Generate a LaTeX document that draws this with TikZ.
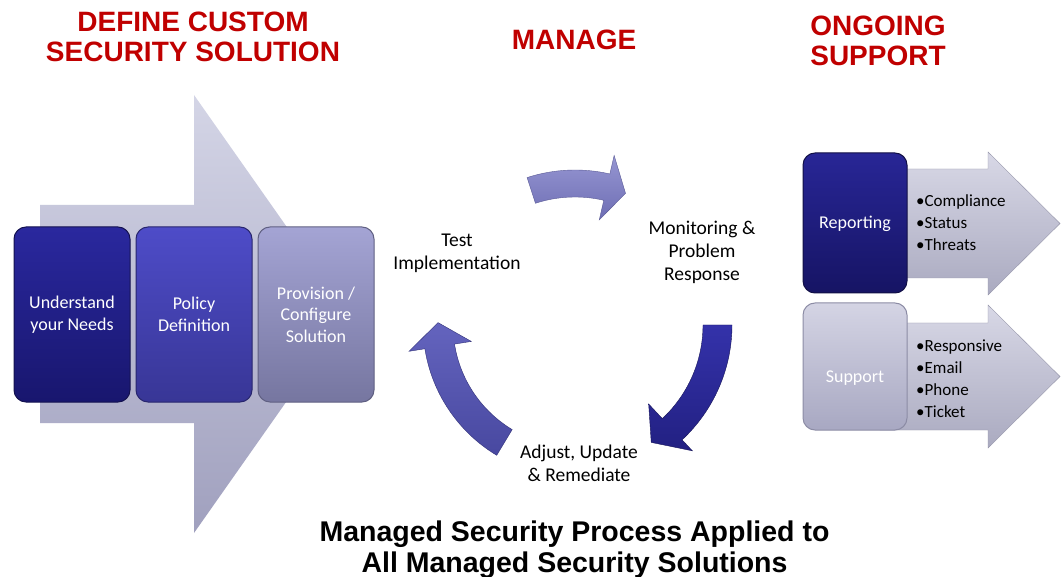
\documentclass[tikz,border=0pt]{standalone}
\usepackage{fontspec}
\setmainfont{Carlito}
\newfontfamily\titlefont{Liberation Sans}
\usetikzlibrary{calc}
\definecolor{titlered}{HTML}{C00000}
\tikzset{
  stagebox/.style={rounded corners=12pt, minimum width=116pt, minimum height=175pt,
    text=white, align=center, font=\fontsize{18}{21.5}\selectfont, line width=1pt},
  sidebox/.style={rounded corners=12pt, minimum width=104pt,
    text=white, align=center, font=\fontsize{18}{21.5}\selectfont, line width=1pt},
  cyclelabel/.style={align=center, font=\fontsize{19.5}{23}\selectfont, text=black},
  bullets/.style={align=left, anchor=west, font=\fontsize{17}{22}\selectfont, text=black, inner sep=0pt},
  heading/.style={align=center, anchor=base, text=titlered, font=\titlefont\bfseries\fontsize{28}{30}\selectfont},
  footing/.style={align=center, anchor=base, text=black, font=\titlefont\bfseries\fontsize{28.5}{31}\selectfont},
}
\begin{document}
\begin{tikzpicture}[x=1pt,y=-1pt]
\useasboundingbox[fill=white] (0,0) rectangle (1063,577);

% big background arrow
\path[top color={rgb,255:red,212;green,213;blue,230}, bottom color={rgb,255:red,160;green,160;blue,190}]
  (40,205) -- (194,205) -- (194,95) -- (348,314) -- (194,533) -- (194,423) -- (40,423) -- cycle;

% stage boxes
\node[stagebox, top color={rgb,255:red,42;green,40;blue,158}, bottom color={rgb,255:red,24;green,22;blue,110}, draw={rgb,255:red,20;green,18;blue,80}]
  (understand) at (72,314.5) {Understand\\your Needs};
\node[stagebox, top color={rgb,255:red,78;green,76;blue,200}, bottom color={rgb,255:red,56;green,54;blue,150}, draw={rgb,255:red,40;green,38;blue,110}]
  (policy) at (194,314.5) {Policy\\Definition};
\node[stagebox, top color={rgb,255:red,164;green,164;blue,212}, bottom color={rgb,255:red,118;green,118;blue,160}, draw={rgb,255:red,96;green,96;blue,130}]
  (provision) at (316,314.5) {Provision /\\Configure\\Solution};

% cycle arrows
\begin{scope}[shift={(575,325)}]
\path[top color={rgb,255:red,150;green,150;blue,210}, bottom color={rgb,255:red,110;green,110;blue,180}, draw={rgb,255:red,90;green,90;blue,150}]
  (-108:155) arc[start angle=-108, end angle=-77, radius=155] -- (-77:174) -- (-69:141)
  -- (-77:108) -- (-77:128) arc[start angle=-77, end angle=-108, radius=128] -- cycle;
\path[top color={rgb,255:red,52;green,50;blue,170}, bottom color={rgb,255:red,34;green,32;blue,130}, draw={rgb,255:red,24;green,22;blue,90}]
  (0:157) arc[start angle=0, end angle=47, radius=157] -- (47:172) -- (57:140)
  -- (47:108) -- (47:128) arc[start angle=47, end angle=0, radius=128] -- cycle;
\path[top color={rgb,255:red,100;green,100;blue,190}, bottom color={rgb,255:red,72;green,72;blue,160}, draw={rgb,255:red,50;green,50;blue,120}]
  (121:152) arc[start angle=121, end angle=171, radius=152] -- (171:168) -- (181:137)
  -- (171:105) -- (171:122) arc[start angle=171, end angle=121, radius=122] -- cycle;
\end{scope}

\node[cyclelabel] (test) at (457,253) {Test\\Implementation};
\node[cyclelabel] (monitor) at (702,252) {Monitoring \&\\Problem\\Response};
\node[cyclelabel] (adjust) at (579,463) {Adjust, Update\\\& Remediate};

% ongoing support arrows
\path[top color={rgb,255:red,216;green,216;blue,230}, bottom color={rgb,255:red,170;green,170;blue,192}, draw={rgb,255:red,150;green,150;blue,170}]
  (880,169) -- (988,169) -- (988,152) -- (1060,223.5) -- (988,295) -- (988,278) -- (880,278) -- cycle;
\path[top color={rgb,255:red,216;green,216;blue,230}, bottom color={rgb,255:red,170;green,170;blue,192}, draw={rgb,255:red,150;green,150;blue,170}]
  (880,323) -- (988,323) -- (988,305) -- (1060,376.5) -- (988,448) -- (988,430) -- (880,430) -- cycle;

\node[sidebox, minimum height=140pt, top color={rgb,255:red,40;green,38;blue,150}, bottom color={rgb,255:red,22;green,20;blue,100}, draw={rgb,255:red,18;green,16;blue,70}]
  (reporting) at (855,223) {\raisebox{-6pt}[0pt][0pt]{Reporting}};
\node[sidebox, minimum height=127pt, top color={rgb,255:red,212;green,212;blue,228}, bottom color={rgb,255:red,168;green,168;blue,194}, draw={rgb,255:red,140;green,140;blue,165}]
  (support) at (855,366.5) {\raisebox{-16.5pt}[0pt][0pt]{Support}};

\node[bullets] (replist) at (916,223) {•Compliance\\•Status\\•Threats};
\node[bullets] (suplist) at (916,378.5) {•Responsive\\•Email\\•Phone\\•Ticket};

% headings
\node[heading] (define) at (193,62) {DEFINE CUSTOM\\SECURITY SOLUTION};
\node[heading] (manage) at (574,50) {MANAGE};
\node[heading] (ongoing) at (878,66) {ONGOING\\SUPPORT};
\node[footing] (footer) at (574.5,572) {Managed Security Process Applied to\\All Managed Security Solutions};
\end{tikzpicture}
\end{document}
